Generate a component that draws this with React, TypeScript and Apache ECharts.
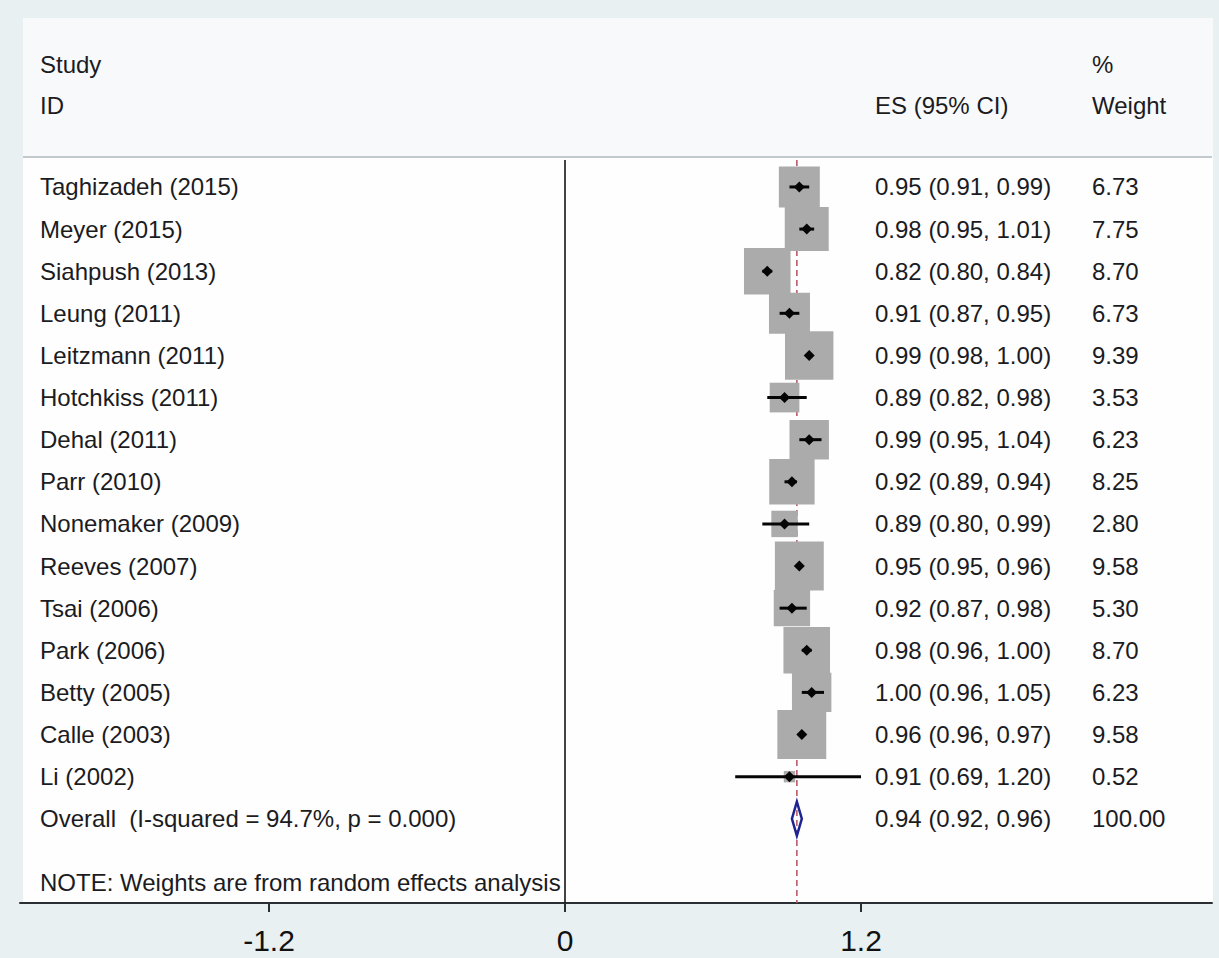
import { useEffect, useRef } from "react";
import * as echarts from "echarts";

const studies = [
  "Taghizadeh (2015)",
  "Meyer (2015)",
  "Siahpush (2013)",
  "Leung (2011)",
  "Leitzmann (2011)",
  "Hotchkiss (2011)",
  "Dehal (2011)",
  "Parr (2010)",
  "Nonemaker (2009)",
  "Reeves (2007)",
  "Tsai (2006)",
  "Park (2006)",
  "Betty (2005)",
  "Calle (2003)",
  "Li (2002)",
];
const es = [0.95, 0.98, 0.82, 0.91, 0.99, 0.89, 0.99, 0.92, 0.89, 0.95, 0.92, 0.98, 1.0, 0.96, 0.91];
const lower = [0.91, 0.95, 0.8, 0.87, 0.98, 0.82, 0.95, 0.89, 0.8, 0.95, 0.87, 0.96, 0.96, 0.96, 0.69];
const upper = [0.99, 1.01, 0.84, 0.95, 1.0, 0.98, 1.04, 0.94, 0.99, 0.96, 0.98, 1.0, 1.05, 0.97, 1.2];
const weights = [6.73, 7.75, 8.7, 6.73, 9.39, 3.53, 6.23, 8.25, 2.8, 9.58, 5.3, 8.7, 6.23, 9.58, 0.52];

const overallLabel = "Overall\u00a0\u00a0(I-squared = 94.7%, p = 0.000)";
const overallES = 0.94;
const overallLower = 0.92;
const overallUpper = 0.96;
const overallWeight = 100.0;

const xTicks = [-1.2, 0, 1.2];
const noteText = "NOTE: Weights are from random effects analysis";

const FONT = "'Liberation Sans', Arial, Helvetica, sans-serif";
const TEXT_COLOR = "#1b1b22";

export default function App() {
  const ref = useRef<HTMLDivElement>(null);

  useEffect(() => {
    if (!ref.current) return;
    const chart = echarts.init(ref.current, null, { renderer: "svg" });

    const XMIN = -2.2095;
    const XMAX = 2.623;
    const YMIN = -0.64;
    const YMAX = 17;
    const nameX = 40;
    const esX = 875;
    const wX = 1092;

    const fmtCI = (e: number, l: number, u: number) =>
      `${e.toFixed(2)} (${l.toFixed(2)}, ${u.toFixed(2)})`;

    const studyData = studies.map((_, i) => [i, es[i], lower[i], upper[i], weights[i]]);
    const overallRow = studies.length;

    const textEl = (x: number, y: number, text: string, size = 24) => ({
      type: "text",
      x,
      y,
      style: {
        text,
        fill: TEXT_COLOR,
        font: `${size}px ${FONT}`,
        align: "left",
        verticalAlign: "middle",
      },
    });

    const option: any = {
      animation: false,
      backgroundColor: "#e9f0f2",
      grid: { left: 20, right: 7, top: 160, bottom: 55, containLabel: false },
      xAxis: {
        type: "value",
        min: XMIN,
        max: XMAX,
        splitLine: { show: false },
        axisLine: { show: true, onZero: false, lineStyle: { color: "#2b2f33", width: 2 } },
        axisTick: {
          show: true,
          customValues: xTicks,
          length: 9,
          lineStyle: { color: "#2b2f33", width: 2 },
        },
        axisLabel: {
          customValues: xTicks,
          formatter: (v: number) => String(v),
          fontSize: 30,
          fontFamily: FONT,
          color: "#111111",
          margin: 22,
        },
      },
      yAxis: {
        type: "value",
        min: YMIN,
        max: YMAX,
        inverse: true,
        show: false,
      },
      graphic: [
        { type: "rect", z: -10, shape: { x: 23, y: 18, width: 1190, height: 139 }, style: { fill: "#f8f9fb" } },
        { type: "rect", z: -10, shape: { x: 23, y: 157, width: 1190, height: 746 }, style: { fill: "#fefefe" } },
        { type: "line", z: -5, shape: { x1: 23, y1: 157, x2: 1212, y2: 157 }, style: { stroke: "#c3cacd", lineWidth: 2 } },
        { ...textEl(nameX, 64, "Study"), z: 5 },
        { ...textEl(nameX, 105, "ID"), z: 5 },
        { ...textEl(esX, 105, "ES (95% CI)"), z: 5 },
        { ...textEl(wX, 64, "%"), z: 5 },
        { ...textEl(wX, 105, "Weight"), z: 5 },
        { ...textEl(nameX, 882, noteText), z: 5 },
      ],
      series: [
        {
          type: "custom",
          name: "refs",
          z: 1,
          silent: true,
          data: [
            [0, 0],
            [overallES, 1],
          ],
          renderItem: (params: any, api: any) => {
            const v = api.value(0);
            const kind = api.value(1);
            const p0 = api.coord([v, YMIN]);
            const p1 = api.coord([v, YMAX]);
            return {
              type: "line",
              shape: { x1: p0[0], y1: p0[1], x2: p1[0], y2: p1[1] },
              style:
                kind === 0
                  ? { stroke: "#151515", lineWidth: 1.6 }
                  : { stroke: "#b85a6a", lineWidth: 1.6, lineDash: [6, 4] },
            };
          },
        },
        {
          type: "custom",
          name: "studies",
          z: 3,
          silent: true,
          data: studyData,
          renderItem: (params: any, api: any) => {
            const i = params.dataIndex;
            const row = api.value(0);
            const e = api.value(1);
            const lo = api.value(2);
            const hi = api.value(3);
            const w = api.value(4);
            const c = api.coord([e, row]);
            const a = api.coord([lo, row]);
            const b = api.coord([hi, row]);
            const rowH = api.size([0, 1])[1];
            const side = rowH * 0.375 * Math.sqrt(w);
            const d = 5.5;
            return {
              type: "group",
              children: [
                {
                  type: "rect",
                  shape: { x: c[0] - side / 2, y: c[1] - side / 2, width: side, height: side },
                  style: { fill: "#ababab" },
                },
                {
                  type: "line",
                  shape: { x1: a[0], y1: c[1], x2: b[0], y2: c[1] },
                  style: { stroke: "#050505", lineWidth: 3 },
                },
                {
                  type: "polygon",
                  shape: {
                    points: [
                      [c[0] - d, c[1]],
                      [c[0], c[1] - d],
                      [c[0] + d, c[1]],
                      [c[0], c[1] + d],
                    ],
                  },
                  style: { fill: "#050505" },
                },
                textEl(nameX, c[1], studies[i]),
                textEl(esX, c[1], fmtCI(es[i], lower[i], upper[i])),
                textEl(wX, c[1], weights[i].toFixed(2)),
              ],
            };
          },
        },
        {
          type: "custom",
          name: "overall",
          z: 4,
          silent: true,
          data: [[overallRow, overallES, overallLower, overallUpper, overallWeight]],
          renderItem: (params: any, api: any) => {
            const row = api.value(0);
            const e = api.value(1);
            const c = api.coord([e, row]);
            const a = api.coord([api.value(2), row]);
            const b = api.coord([api.value(3), row]);
            const h = 17;
            return {
              type: "group",
              children: [
                {
                  type: "polygon",
                  shape: {
                    points: [
                      [a[0], c[1]],
                      [c[0], c[1] - h],
                      [b[0], c[1]],
                      [c[0], c[1] + h],
                    ],
                  },
                  style: { fill: "rgba(255,255,255,0)", stroke: "#1d2390", lineWidth: 2.5 },
                },
                textEl(nameX, c[1], overallLabel),
                textEl(esX, c[1], fmtCI(overallES, overallLower, overallUpper)),
                textEl(wX, c[1], api.value(4).toFixed(2)),
              ],
            };
          },
        },
      ],
    };

    chart.setOption(option);
    return () => chart.dispose();
  }, []);

  return (
    <div
      ref={ref}
      style={{ position: "fixed", left: 0, top: 0, width: 1219, height: 958 }}
    />
  );
}
